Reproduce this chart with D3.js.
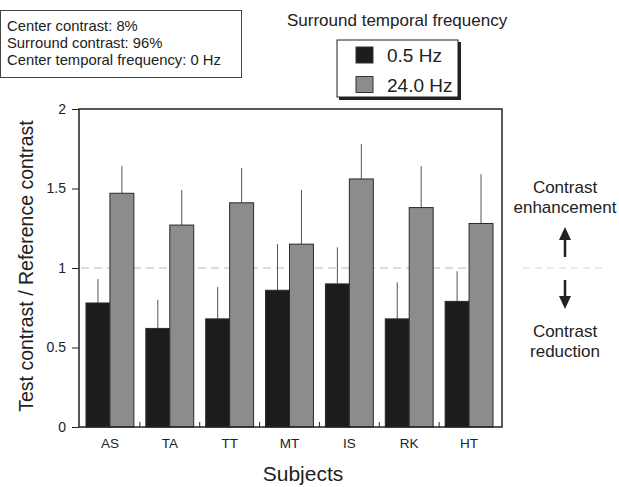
<!DOCTYPE html>
<html>
<head>
<meta charset="utf-8">
<script src="https://cdn.jsdelivr.net/npm/d3@7"></script>
<style>
	body { margin: 0; background: #fff; }
	svg text { font-family: "Liberation Sans", Arial, sans-serif; fill: #222; }
</style>
</head>
<body>
<div id="vis"></div>
<script>

var subjects = ["AS", "TA", "TT", "MT", "IS", "RK", "HT"];
var lowValues = [0.78, 0.62, 0.68, 0.86, 0.90, 0.68, 0.79];
var lowErrors = [0.93, 0.80, 0.88, 1.15, 1.13, 0.91, 0.98];
var highValues = [1.47, 1.27, 1.41, 1.15, 1.56, 1.38, 1.28];
var highErrors = [1.64, 1.49, 1.63, 1.49, 1.78, 1.64, 1.59];
var seriesNames = ["0.5 Hz", "24.0 Hz"];
var seriesColors = ["#1c1c1c", "#8c8c8c"];
var yTicks = [0, 0.5, 1, 1.5, 2];
var infoLines = ["Center contrast: 8%", "Surround contrast: 96%", "Center temporal frequency: 0 Hz"];

var width = 619, height = 487;
var margin = {left: 79, right: 117, top: 109, bottom: 60};

var svg = d3.select("#vis").append("svg")
	.attr("width", width)
	.attr("height", height);

var x = d3.scaleBand()
	.domain(subjects)
	.range([margin.left + 1, width - margin.right - 3])
	.paddingInner(0.2)
	.paddingOuter(0.1);

var x1 = d3.scaleBand()
	.domain([0, 1])
	.range([0, x.bandwidth()]);

var y = d3.scaleLinear()
	.domain([0, 2])
	.range([height - margin.bottom, margin.top]);

var data = subjects.map(function(s, i) {
	return {
		name: s,
		bars: [
			{k: 0, v: lowValues[i], e: lowErrors[i]},
			{k: 1, v: highValues[i], e: highErrors[i]}
		]
	};
});

// reference line at 1
svg.append("line")
	.attr("x1", margin.left + 2)
	.attr("x2", width - margin.right - 10)
	.attr("y1", y(1))
	.attr("y2", y(1))
	.style("stroke", "#cfcfcf")
	.style("stroke-width", 1.5)
	.style("stroke-dasharray", "8,5");

svg.append("line")
	.attr("x1", 523)
	.attr("x2", 602)
	.attr("y1", y(1))
	.attr("y2", y(1))
	.style("stroke", "#d8d8d8")
	.style("stroke-width", 1.2)
	.style("stroke-dasharray", "7,5");

var groups = svg.selectAll(".subject")
	.data(data)
	.enter()
	.append("g")
	.attr("class", "subject")
	.attr("transform", function(d) { return "translate(" + x(d.name) + ",0)"; });

// error bars (upper only)
groups.selectAll(".err")
	.data(function(d) { return d.bars; })
	.enter()
	.append("line")
	.attr("class", "err")
	.attr("x1", function(d) { return x1(d.k) + x1.bandwidth() / 2; })
	.attr("x2", function(d) { return x1(d.k) + x1.bandwidth() / 2; })
	.attr("y1", function(d) { return y(d.v); })
	.attr("y2", function(d) { return y(d.e); })
	.style("stroke", "#555")
	.style("stroke-width", 1);

groups.selectAll(".bar")
	.data(function(d) { return d.bars; })
	.enter()
	.append("rect")
	.attr("class", "bar")
	.attr("x", function(d) { return x1(d.k); })
	.attr("width", x1.bandwidth())
	.attr("y", function(d) { return y(d.v); })
	.attr("height", function(d) { return y(0) - y(d.v); })
	.style("fill", function(d) { return seriesColors[d.k]; })
	.style("stroke", "#2a2a2a")
	.style("stroke-width", 1);

// frame
svg.append("rect")
	.attr("x", margin.left)
	.attr("y", margin.top)
	.attr("width", width - margin.right - margin.left)
	.attr("height", y(0) - margin.top)
	.style("fill", "none")
	.style("stroke", "#222")
	.style("stroke-width", 1.5);

// y axis
var yAxis = svg.append("g")
	.attr("transform", "translate(" + margin.left + ",0)")
	.call(d3.axisLeft(y).tickValues(yTicks).tickSize(7).tickFormat(d3.format("")));
yAxis.select(".domain").remove();
yAxis.selectAll("line").style("stroke", "#222");
yAxis.selectAll("text").style("font-size", "14px").attr("x", -13);

// x axis
var xAxis = svg.append("g")
	.attr("transform", "translate(0," + y(0) + ")")
	.call(d3.axisBottom(x).tickSize(0).tickPadding(11));
xAxis.select(".domain").remove();
xAxis.selectAll("text").style("font-size", "13.5px");

// small separator ticks between subjects
svg.selectAll(".sep")
	.data(subjects.slice(1))
	.enter()
	.append("line")
	.attr("class", "sep")
	.attr("x1", function(d) { return x(d) - x.step() * x.paddingInner() / 2; })
	.attr("x2", function(d) { return x(d) - x.step() * x.paddingInner() / 2; })
	.attr("y1", y(0))
	.attr("y2", y(0) - 5)
	.style("stroke", "#222");

// axis titles
svg.append("text")
	.attr("transform", "translate(33," + (y(1) - 2) + ") rotate(-90)")
	.attr("text-anchor", "middle")
	.style("font-size", "19.5px")
	.text("Test contrast / Reference contrast");

svg.append("text")
	.attr("x", 303)
	.attr("y", 481)
	.attr("text-anchor", "middle")
	.style("font-size", "21px")
	.text("Subjects");

// info box
svg.append("rect")
	.attr("x", 0.5)
	.attr("y", 10.5)
	.attr("width", 241)
	.attr("height", 67)
	.style("fill", "#fff")
	.style("stroke", "#444");

svg.selectAll(".info")
	.data(infoLines)
	.enter()
	.append("text")
	.attr("class", "info")
	.attr("x", 7)
	.attr("y", function(d, i) { return 31 + i * 17; })
	.style("font-size", "14.8px")
	.text(function(d) { return d; });

// legend
svg.append("text")
	.attr("x", 287)
	.attr("y", 26)
	.style("font-size", "17px")
	.text("Surround temporal frequency");

svg.append("rect")
	.attr("x", 339)
	.attr("y", 42)
	.attr("width", 122)
	.attr("height", 58)
	.style("fill", "#222");

svg.append("rect")
	.attr("x", 337)
	.attr("y", 40)
	.attr("width", 121)
	.attr("height", 57)
	.style("fill", "#fff")
	.style("stroke", "#222")
	.style("stroke-width", 1);

var legend = svg.selectAll(".legend")
	.data(seriesNames)
	.enter()
	.append("g")
	.attr("class", "legend")
	.attr("transform", function(d, i) { return "translate(356," + (47 + i * 29.5) + ")"; });

legend.append("rect")
	.attr("width", 17)
	.attr("height", 16)
	.style("fill", function(d, i) { return seriesColors[i]; })
	.style("stroke", "#333");

legend.append("text")
	.attr("x", 31)
	.attr("y", 15)
	.style("font-size", "19px")
	.text(function(d) { return d; });

// annotations on the right
var annX = 565;
svg.selectAll(".annTop")
	.data(["Contrast", "enhancement"])
	.enter()
	.append("text")
	.attr("x", annX)
	.attr("y", function(d, i) { return 193 + i * 20; })
	.attr("text-anchor", "middle")
	.style("font-size", "17px")
	.text(function(d) { return d; });

svg.selectAll(".annBot")
	.data(["Contrast", "reduction"])
	.enter()
	.append("text")
	.attr("x", annX)
	.attr("y", function(d, i) { return 337 + i * 20; })
	.attr("text-anchor", "middle")
	.style("font-size", "17px")
	.text(function(d) { return d; });

// arrows
svg.append("line")
	.attr("x1", annX).attr("x2", annX)
	.attr("y1", 257).attr("y2", 238)
	.style("stroke", "#222").style("stroke-width", 2.5);
svg.append("path")
	.attr("d", d3.line()([[annX - 6, 240], [annX, 227], [annX + 6, 240]]) + "Z")
	.style("fill", "#222");

svg.append("line")
	.attr("x1", annX).attr("x2", annX)
	.attr("y1", 280).attr("y2", 298)
	.style("stroke", "#222").style("stroke-width", 2.5);
svg.append("path")
	.attr("d", d3.line()([[annX - 6, 296], [annX, 309], [annX + 6, 296]]) + "Z")
	.style("fill", "#222");

</script>
</body>
</html>
